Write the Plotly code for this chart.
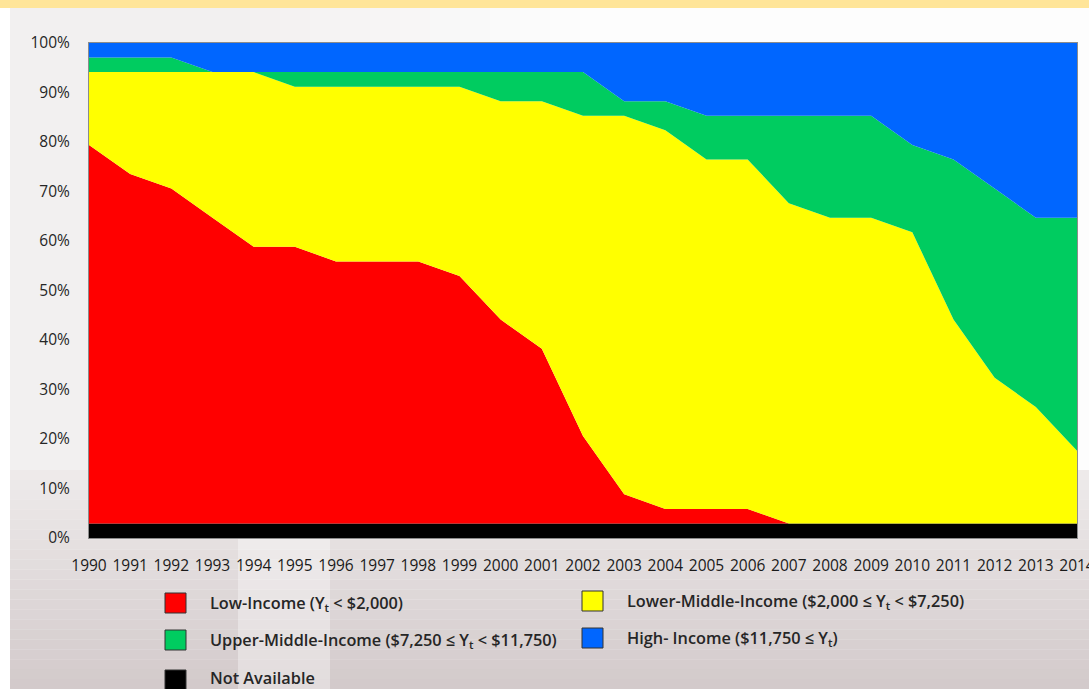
import plotly.graph_objects as go

# Number of countries in each income group per year (34 countries in total)
years = list(range(1990, 2015))
not_available = [1] * 25
low_income = [26, 24, 23, 21, 19, 19, 18, 18, 18, 17, 14, 12, 6, 2, 1, 1, 1, 0, 0, 0, 0, 0, 0, 0, 0]
lower_middle = [5, 7, 8, 10, 12, 11, 12, 12, 12, 13, 15, 17, 22, 26, 26, 24, 24, 22, 21, 21, 20, 14, 10, 8, 5]
upper_middle = [1, 1, 1, 0, 0, 1, 1, 1, 1, 1, 2, 2, 3, 1, 2, 3, 3, 6, 7, 7, 6, 11, 13, 13, 16]
high_income = [1, 1, 1, 2, 2, 2, 2, 2, 2, 2, 2, 2, 2, 4, 4, 5, 5, 5, 5, 5, 7, 8, 10, 12, 12]

y_ticks = [0, 10, 20, 30, 40, 50, 60, 70, 80, 90, 100]
y_tick_labels = [f"{v}%" for v in y_ticks]

series_names = [
    "Not Available",
    "Low-Income (Y<sub>t</sub> &lt; $2,000)",
    "Lower-Middle-Income ($2,000 ≤ Y<sub>t</sub> &lt; $7,250)",
    "Upper-Middle-Income ($7,250 ≤ Y<sub>t</sub> &lt; $11,750)",
    "High- Income ($11,750 ≤ Y<sub>t</sub>)",
]
series_values = [not_available, low_income, lower_middle, upper_middle, high_income]
series_colors = ["#000000", "#FF0000", "#FFFF00", "#00CC60", "#0066FF"]

W, H = 1089, 689
L, R, T, B = 89, 12, 43, 151
PW, PH = W - L - R, H - T - B


def px(x):
    return (x - L) / PW


def py(y):
    return (H - B - y) / PH


def mix(c0, c1, t):
    return "#%02X%02X%02X" % tuple(int(round(a + (b - a) * t)) for a, b in zip(c0, c1))


fig = go.Figure()
for name, vals, col in zip(series_names, series_values, series_colors):
    fig.add_trace(go.Scatter(
        x=years, y=vals, name=name, mode="none",
        stackgroup="income", groupnorm="percent",
        fillcolor=col, showlegend=False,
        hoverinfo="x+y+name",
    ))

shapes = []
annotations = []

# slide background: white margin, light panel fading to a greyish lower part
top_col = (0xF2, 0xF0, 0xF0)
bottom_col = (0xD3, 0xCA, 0xCB)
shapes.append(dict(type="rect", xref="paper", yref="paper", x0=px(10), x1=px(W), y0=py(8), y1=py(H),
                   fillcolor=mix(top_col, top_col, 0), line_width=0, layer="below"))
# lighter upper-right part of the panel, built from vertical strips
strips = 12
for i in range(strips):
    x0 = 250 + i * 30
    shapes.append(dict(type="rect", xref="paper", yref="paper", x0=px(x0), x1=px(x0 + 30 if i < strips - 1 else W),
                       y0=py(8), y1=py(470),
                       fillcolor=mix(top_col, (0xFD, 0xFD, 0xFD), (i + 1) / strips),
                       line_width=0, layer="below"))
steps = 22
for i in range(steps):
    y0 = 470 + i * (H - 470) / steps
    y1 = 470 + (i + 1) * (H - 470) / steps
    shapes.append(dict(type="rect", xref="paper", yref="paper", x0=px(10), x1=px(W), y0=py(y0), y1=py(y1),
                       fillcolor=mix((0xEF, 0xEC, 0xEC), bottom_col, (i + 1) / steps),
                       line_width=0, layer="below"))
shapes.append(dict(type="rect", xref="paper", yref="paper", x0=px(238), x1=px(330), y0=py(500), y1=py(H),
                   fillcolor="rgba(255,255,255,0.35)", line_width=0, layer="below"))
# title band across the top
shapes.append(dict(type="rect", xref="paper", yref="paper", x0=px(0), x1=px(W), y0=py(0), y1=py(8),
                   fillcolor="#FFE599", line_width=0, layer="below"))

# legend, two columns
legend_items = [
    (1, 165, 593, 208, 603),
    (2, 582, 591, 625, 601),
    (3, 165, 630, 208, 640),
    (4, 582, 628, 625, 638),
    (0, 165, 670, 208, 678),
]
for idx, sx, sy, tx, ty in legend_items:
    shapes.append(dict(type="rect", xref="paper", yref="paper",
                       x0=px(sx), x1=px(sx + 21), y0=py(sy), y1=py(sy + 20),
                       fillcolor=series_colors[idx], line=dict(color="#333333", width=1)))
    annotations.append(dict(xref="paper", yref="paper", x=px(tx), y=py(ty),
                            xanchor="left", yanchor="middle", showarrow=False,
                            text=series_names[idx],
                            font=dict(family="Open Sans", size=16.3, color="#262626", weight=600)))

fig.update_layout(
    width=W, height=H,
    margin=dict(l=L, r=R, t=T, b=B, autoexpand=False),
    paper_bgcolor="white",
    plot_bgcolor="white",
    shapes=shapes,
    annotations=annotations,
    font=dict(family="Open Sans", size=15, color="#262626"),
    xaxis=dict(
        range=[years[0], years[-1]], tickmode="array", tickvals=years,
        ticktext=[str(y) for y in years],
        ticklabeloverflow="allow", automargin=False,
        showgrid=False, zeroline=False,
        showline=True, linecolor="#8C8C8C", linewidth=1, mirror=True,
        ticks="outside", ticklen=13, tickcolor="rgba(0,0,0,0)",
        tickfont=dict(size=15.5, color="#1A1A1A"),
    ),
    yaxis=dict(
        range=[0, 100], tickmode="array", tickvals=y_ticks, ticktext=y_tick_labels,
        automargin=False,
        showgrid=False, zeroline=False,
        showline=True, linecolor="#8C8C8C", linewidth=1, mirror=True,
        ticks="outside", ticklen=15, tickcolor="rgba(0,0,0,0)",
        tickfont=dict(size=15.5, color="#262626"),
    ),
)

fig.write_html("out.html")
